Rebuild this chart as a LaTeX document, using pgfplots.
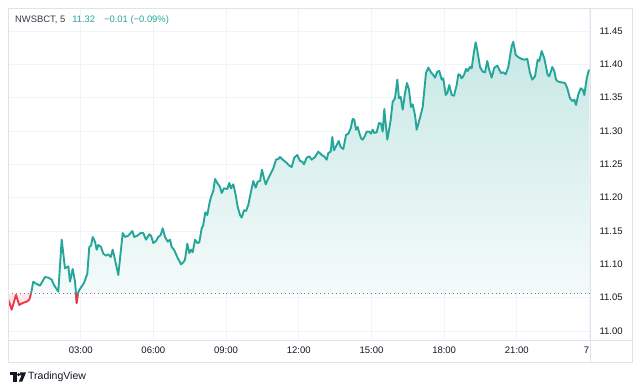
\documentclass[border=0pt]{standalone}
\usepackage{fontspec}
\setmainfont{Liberation Sans}
\usepackage{pgfplots}
\usepackage{pgfplotstable}
\pgfplotsset{compat=1.18}
\definecolor{tvteal}{RGB}{38,166,154}
\definecolor{tvred}{RGB}{242,54,69}
\definecolor{tvpink}{RGB}{253,232,234}
\definecolor{gridc}{RGB}{240,243,250}
\definecolor{framec}{RGB}{224,227,235}
\definecolor{txt}{RGB}{19,23,34}
\definecolor{basec}{RGB}{120,123,134}

\pgfplotstableread{
h v
0.949 11.056
1.044 11.074
1.156 11.071
1.321 11.068
1.527 11.081
1.663 11.080
1.804 11.077
1.898 11.069
2.076 11.059
2.216 11.137
2.352 11.094
2.489 11.097
2.559 11.074
2.670 11.093
2.765 11.074
2.806 11.056
2.835 11.042
2.881 11.056
2.951 11.062
3.137 11.072
3.273 11.086
3.355 11.126
3.426 11.128
3.496 11.141
3.591 11.134
3.661 11.122
3.727 11.129
3.838 11.126
3.933 11.116
4.045 11.113
4.139 11.115
4.239 11.111
4.321 11.122
4.416 11.107
4.552 11.084
4.734 11.147
4.829 11.141
4.965 11.143
5.130 11.150
5.213 11.141
5.336 11.143
5.477 11.147
5.584 11.147
5.695 11.137
5.832 11.145
5.902 11.143
5.997 11.132
6.108 11.135
6.203 11.141
6.302 11.144
6.385 11.154
6.480 11.141
6.591 11.134
6.686 11.137
6.756 11.126
6.851 11.122
6.987 11.111
7.140 11.100
7.235 11.103
7.305 11.107
7.400 11.131
7.483 11.117
7.553 11.122
7.623 11.118
7.718 11.137
7.813 11.132
7.895 11.133
7.994 11.154
8.060 11.159
8.143 11.178
8.225 11.174
8.316 11.192
8.378 11.201
8.473 11.210
8.543 11.228
8.638 11.222
8.750 11.216
8.820 11.207
8.915 11.214
9.051 11.213
9.133 11.222
9.203 11.214
9.298 11.220
9.397 11.204
9.480 11.186
9.575 11.174
9.645 11.170
9.740 11.181
9.823 11.180
9.918 11.189
10.017 11.207
10.124 11.225
10.223 11.215
10.305 11.224
10.400 11.225
10.483 11.242
10.565 11.229
10.636 11.220
10.743 11.229
10.854 11.237
10.949 11.244
11.061 11.257
11.156 11.258
11.226 11.261
11.337 11.257
11.473 11.253
11.610 11.248
11.709 11.246
11.816 11.260
11.940 11.264
12.051 11.255
12.146 11.254
12.216 11.250
12.328 11.260
12.435 11.262
12.534 11.257
12.670 11.261
12.806 11.269
12.947 11.264
13.042 11.262
13.153 11.257
13.219 11.267
13.318 11.269
13.384 11.291
13.454 11.271
13.566 11.279
13.648 11.285
13.731 11.276
13.838 11.273
13.950 11.294
14.045 11.296
14.144 11.304
14.226 11.318
14.292 11.317
14.362 11.302
14.432 11.306
14.499 11.297
14.569 11.289
14.639 11.287
14.734 11.293
14.804 11.299
14.911 11.299
14.981 11.296
15.052 11.302
15.118 11.297
15.217 11.298
15.312 11.312
15.394 11.311
15.464 11.299
15.531 11.333
15.601 11.306
15.654 11.287
15.737 11.304
15.795 11.317
15.877 11.344
15.972 11.349
16.067 11.377
16.137 11.349
16.207 11.351
16.290 11.332
16.385 11.357
16.467 11.372
16.550 11.362
16.632 11.336
16.702 11.340
16.797 11.324
16.867 11.302
17.004 11.320
17.115 11.336
17.251 11.387
17.346 11.395
17.458 11.388
17.553 11.384
17.623 11.380
17.718 11.389
17.800 11.390
17.899 11.377
17.965 11.379
18.064 11.354
18.131 11.357
18.213 11.369
18.312 11.354
18.407 11.353
18.518 11.369
18.585 11.385
18.655 11.384
18.725 11.379
18.820 11.384
18.902 11.393
18.972 11.390
19.067 11.396
19.137 11.394
19.232 11.419
19.302 11.433
19.369 11.421
19.480 11.396
19.592 11.389
19.686 11.388
19.781 11.405
19.864 11.391
19.963 11.380
20.070 11.395
20.194 11.398
20.347 11.387
20.442 11.388
20.541 11.385
20.648 11.396
20.788 11.427
20.854 11.434
20.954 11.414
21.089 11.410
21.201 11.408
21.308 11.407
21.432 11.408
21.544 11.387
21.639 11.377
21.750 11.382
21.861 11.407
21.927 11.405
22.026 11.420
22.134 11.409
22.274 11.384
22.340 11.382
22.464 11.396
22.546 11.390
22.617 11.377
22.712 11.374
22.823 11.373
22.988 11.372
23.083 11.364
23.194 11.349
23.289 11.345
23.372 11.347
23.442 11.339
23.537 11.355
23.636 11.364
23.719 11.362
23.785 11.354
23.884 11.379
23.979 11.392
}\tealdata

\pgfplotstableread{
h v
0.012 11.047
0.153 11.032
0.330 11.054
0.466 11.039
0.607 11.042
0.772 11.044
0.879 11.047
0.949 11.056
}\redA

\pgfplotstableread{
h v
2.806 11.056
2.835 11.042
2.881 11.056
}\redB

\begin{document}
\begin{tikzpicture}
\useasboundingbox (0,0) rectangle (640pt,391pt);
\fill[white] (0,0) rectangle (640pt,391pt);
\begin{axis}[
  at={(8pt,51pt)}, anchor=south west,
  scale only axis, width=582pt, height=332pt,
  xmin=0, xmax=24.02, ymin=10.9865, ymax=11.4845,
  axis line style={draw=none},
  major tick length=0pt,
  xtick={0,3,...,24},
  xticklabels={,03:00,06:00,09:00,12:00,15:00,18:00,21:00,{7\hspace*{6pt}}},
  ytick={11.00,11.05,...,11.46},
  yticklabel pos=right,
  grid=major,
  major grid style={color=gridc, line width=0.8pt},
  /pgf/number format/assume math mode=true,
  yticklabel style={font=\fontsize{9.5}{11}\selectfont, text=txt, xshift=6pt,
    /pgf/number format/.cd, fixed, fixed zerofill, precision=2},
  xticklabel style={font=\fontsize{9.5}{11}\selectfont, text=txt, yshift=-3pt},
]
% teal area to baseline
\addplot[draw=none, top color=tvteal!26!white, bottom color=tvteal!4!white]
  table[x=h,y=v] {\tealdata} -- (axis cs:23.979,11.056) -- cycle;
% red areas
\addplot[draw=none, fill=tvpink] table[x=h,y=v] {\redA} -- (axis cs:0.012,11.056) -- cycle;
\addplot[draw=none, fill=tvpink] table[x=h,y=v] {\redB} -- cycle;
% baseline
\addplot[basec, line width=0.9pt, dash pattern=on 0.9pt off 3pt] coordinates {(0,11.056) (24.02,11.056)};
% lines
\addplot[tvteal, line width=1.9pt, line join=round] table[x=h,y=v] {\tealdata};
\addplot[tvred, line width=1.9pt, line join=round] table[x=h,y=v] {\redA};
\addplot[tvred, line width=1.9pt, line join=round] table[x=h,y=v] {\redB};
\end{axis}
% frame
\draw[framec, line width=0.8pt] (8pt,29pt) rectangle (632pt,383pt);
\draw[framec, line width=0.8pt] (590pt,29pt) -- (590pt,383pt);
\draw[framec, line width=0.8pt] (8pt,51pt) -- (632pt,51pt);
% title
\node[anchor=west, inner sep=0pt, font=\fontsize{9.4}{11}\selectfont] at (15pt,371pt)
  {\textcolor{txt!85}{NWSBCT, 5}\hspace{7pt}\textcolor{tvteal}{11.32\hspace{9pt}−0.01 (−0.09\%)}};
% logo
\fill[txt] (10pt,18.5pt) rectangle (16.5pt,15.5pt);
\fill[txt] (13.3pt,18.5pt) rectangle (16.5pt,9.5pt);
\fill[txt] (18.6pt,16.4pt) circle (1.6pt);
\fill[txt] (20pt,18.5pt) -- (26pt,18.5pt) -- (22.3pt,9.5pt) -- (18.8pt,9.5pt) -- (21.6pt,15.6pt) -- (20pt,15.6pt) -- cycle;
\node[anchor=west, inner sep=0pt, font=\fontsize{10.5}{12}\selectfont, text=txt] at (28pt,14pt) {TradingView};
\end{tikzpicture}
\end{document}
